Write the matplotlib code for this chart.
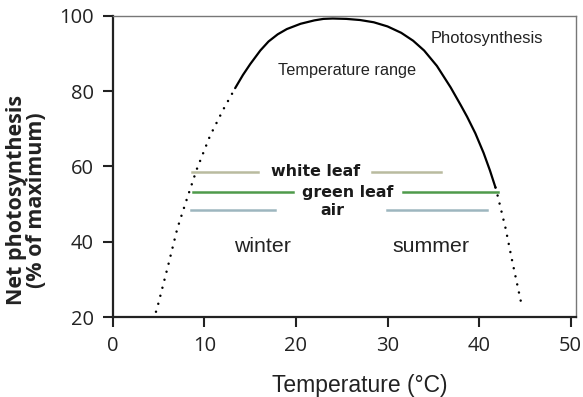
import numpy as np
import matplotlib.pyplot as plt

# Net photosynthesis curve (% of maximum) against temperature (°C)
temp_solid = [13.35, 14.2, 15.0, 16.1, 17.0, 18.0, 19.0, 20.5, 22.0, 23.0, 24.0,
              25.5, 27.0, 28.5, 30.0, 31.5, 32.8, 34.0, 35.4, 36.9, 38.0, 38.7,
              39.6, 40.5, 41.2, 41.8]
photo_solid = [80.8, 84.3, 87.2, 90.8, 93.2, 95.1, 96.5, 97.9, 98.8, 99.2, 99.3,
               99.2, 98.9, 98.3, 97.2, 95.5, 93.4, 90.8, 86.7, 81.0, 76.3, 73.2,
               68.8, 63.6, 58.9, 54.4]

# extrapolated ends (dotted)
temp_cold = [4.7, 4.96, 6.05, 7.03, 8.0, 9.15, 10.6, 12.07, 13.1, 13.35]
photo_cold = [21.4, 23.6, 33.9, 43.5, 50.8, 59.2, 68.1, 75.2, 79.7, 80.8]
temp_hot = [41.8, 42.05, 42.9, 43.6, 44.7]
photo_hot = [54.4, 52.1, 43.6, 35.2, 22.7]

# leaf / air temperature ranges
range_names = ['white leaf', 'green leaf', 'air']
range_levels = [58.6, 53.2, 48.4]
winter_spans = [(8.6, 15.9), (8.75, 19.7), (8.5, 17.7)]
summer_spans = [(28.3, 35.8), (31.7, 42.1), (29.9, 40.9)]
range_label_x = [22.1, 25.7, 24.0]
range_colors = ['#b9bb9f', '#4f9a4b', '#9db6bf']

fig = plt.figure(figsize=(5.83, 3.97), dpi=100)
ax = fig.add_axes([0.1938, 0.2015, 0.7942, 0.7585])

ax.plot(temp_solid, photo_solid, color='black', lw=1.6, solid_capstyle='round',
        solid_joinstyle='round')
dots = dict(color='black', lw=1.8, linestyle=(0, (0.01, 3.3)), dash_capstyle='round')
ax.plot(temp_cold, photo_cold, **dots)
ax.plot(temp_hot, photo_hot, **dots)

for name, lev, ws, ss, lx, c in zip(range_names, range_levels, winter_spans,
                                     summer_spans, range_label_x, range_colors):
    ax.plot(ws, [lev, lev], color=c, lw=1.8)
    ax.plot(ss, [lev, lev], color=c, lw=1.8)
    ax.text(lx, lev, name, ha='center', va='center', fontsize=11.4,
            fontweight='bold', family='DejaVu Sans', color='#1a1a1a')

ax.text(16.3, 38.75, 'winter', ha='center', va='center', fontsize=15.3,
        family='Liberation Sans', color='#222222')
ax.text(34.8, 38.75, 'summer', ha='center', va='center', fontsize=15.3,
        family='Liberation Sans', color='#222222')
ax.text(25.6, 85.4, 'Temperature range', ha='center', va='center', fontsize=11.7,
        family='Liberation Sans', color='#222222')
ax.text(40.9, 94.0, 'Photosynthesis', ha='center', va='center', fontsize=11.9,
        family='Liberation Sans', color='#222222')

ax.set_xlim(0, 50.6)
ax.set_ylim(20, 100)
ax.set_xticks([0, 10, 20, 30, 40, 50])
ax.set_yticks([20, 40, 60, 80, 100])
ax.tick_params(direction='out', length=7, width=1.5, labelsize=14.5,
               colors='#222222', pad=7)
for lab in ax.get_xticklabels() + ax.get_yticklabels():
    lab.set_family('Open Sans')

for side in ['left', 'bottom']:
    ax.spines[side].set_linewidth(1.6)
    ax.spines[side].set_color('#222222')
for side in ['top', 'right']:
    ax.spines[side].set_linewidth(1.0)
    ax.spines[side].set_color('#777777')

ax.set_xlabel('Temperature (°C)', fontsize=16.5, family='Liberation Sans',
              color='#222222', va='center')
ax.xaxis.set_label_coords(0.533, -0.226)
ax.set_ylabel('Net photosynthesis\n(% of maximum)', fontsize=15.5,
              fontweight='bold', family='Open Sans', color='#222222',
              linespacing=0.9, va='center')
ax.yaxis.set_label_coords(-0.187, 0.389)

fig.savefig('out.png', dpi=100)
